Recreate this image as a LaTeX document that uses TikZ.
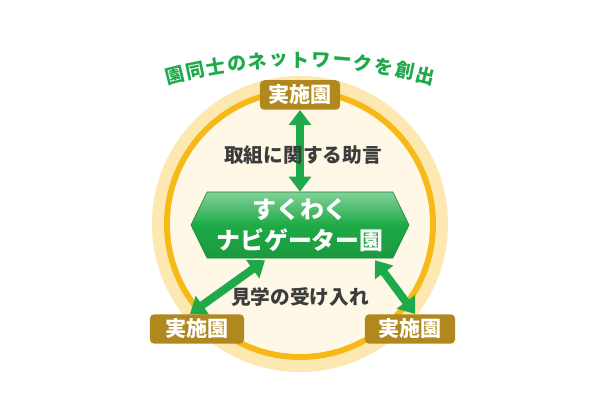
\documentclass[tikz,border=0pt]{standalone}
\usepackage{fontspec}
\newfontfamily\cjk{Noto Sans CJK JP}
\usepackage{tikz}
\usetikzlibrary{arrows.meta,shapes.symbols,calc}
\definecolor{ringpale}{RGB}{253,232,178}
\definecolor{ringgold}{RGB}{247,185,24}
\definecolor{cream}{RGB}{255,248,230}
\definecolor{leafgreen}{RGB}{30,170,75}
\definecolor{hexgreen}{RGB}{30,170,70}
\definecolor{ochre}{RGB}{176,136,30}
\definecolor{ink}{RGB}{60,60,60}

\begin{document}
\begin{tikzpicture}[
    x=0.025cm, y=-0.025cm,
    site/.style={fill=ochre, rounded corners=3pt, text=white, font=\cjk\bfseries\fontsize{15}{15}\selectfont,
                 minimum height=0.7cm, inner xsep=6pt},
    twoway/.style={draw=leafgreen, line width=0.2cm,
                   {Triangle[length=0.38cm,width=0.55cm]}-{Triangle[length=0.38cm,width=0.55cm]}},
    lbl/.style={text=ink, font=\cjk\bfseries\fontsize{14}{14}\selectfont},
]
\useasboundingbox (0,0) rectangle (600,400);
\fill[white] (0,0) rectangle (600,400);

% rings
\fill[ringpale] (300,224) circle[radius=148];
\fill[ringgold] (300,224) circle[radius=136];
\fill[cream] (300,224) circle[radius=130];

% title on an arc
\foreach \ch [count=\i] in {園,同,士,の,ネ,ッ,ト,ワ,ー,ク,を,創,出}
  \node[inner sep=0pt, text=leafgreen, font=\cjk\bfseries\fontsize{13.5}{13.5}\selectfont, rotate={(7-\i)*2.35}]
    (t\i) at ({300+515*cos(90+(7-\i)*2.35)},{575-515*sin(90+(7-\i)*2.35)}) {\ch};

% centre
\node[shape=signal, signal to=west and east, signal pointer angle=128,
      top color=hexgreen!55!white, bottom color=hexgreen!90!black, middle color=hexgreen,
      draw=hexgreen!80!black, line width=0.4pt,
      minimum width=5.45cm, minimum height=1.65cm, inner sep=0pt,
      align=center, text=white, font=\cjk\bfseries\fontsize{17}{22}\selectfont]
  (hub) at (300,225) {すくわく\\ナビゲーター園};

% sites
\node[site, minimum width=2.0cm] (top) at (300,95) {実施園};
\node[site, minimum width=2.35cm] (bl) at (197,329) {実施園};
\node[site, minimum width=2.25cm] (br) at (410,329) {実施園};

% links
\draw[twoway] (top.south) -- (hub.north);
\draw[twoway] ($(hub.south)+(-35,2)$) -- ($(bl.north)+(-7,0)$);
\draw[twoway] ($(hub.south)+(75,2)$) -- ($(br.north)+(5,0)$);

\node[lbl] (advice) at (303,155) {取組に関する助言};
\node[lbl] (visit) at (300,297) {見学の受け入れ};
\end{tikzpicture}
\end{document}
